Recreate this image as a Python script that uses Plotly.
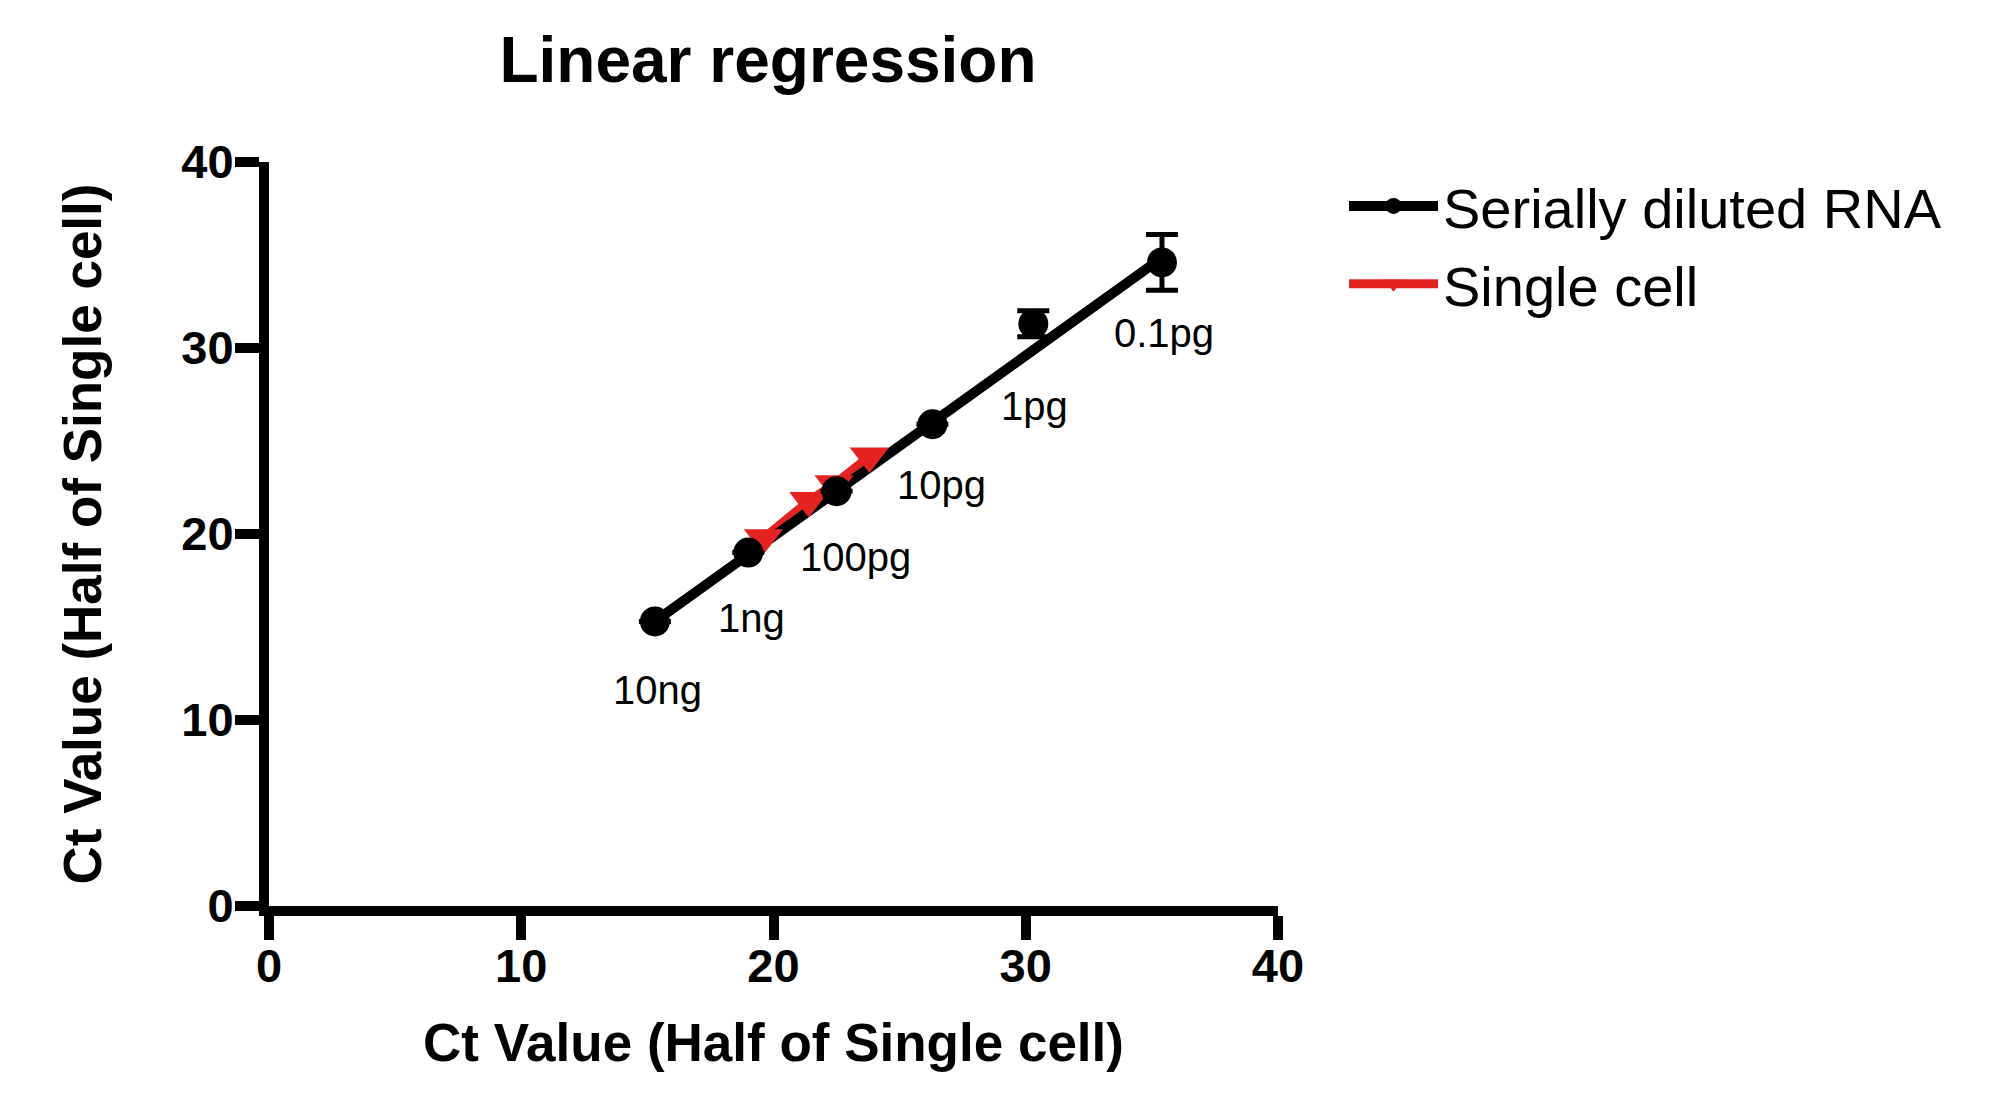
import plotly.graph_objects as go

# ---- data ----
conc_labels = ["10ng", "1ng", "100pg", "10pg", "1pg", "0.1pg"]
serial_x = [15.3, 19.0, 22.5, 26.3, 30.3, 35.4]
serial_y = [15.3, 19.0, 22.3, 25.9, 31.3, 34.6]
serial_err = [None, None, None, None, 0.7, 1.5]

cell_x = [19.6, 21.4, 22.4, 23.8]
cell_y = [19.8, 21.8, 22.7, 24.2]

fit_x = [15.3, 35.4]
fit_y = [15.3, 34.85]

x_ticks = [0, 10, 20, 30, 40]
y_ticks = [0, 10, 20, 30, 40]

# ---- style ----
BLACK = "#000000"
RED = "#e52421"
FONT = "Arial, Liberation Sans, sans-serif"
label_dx = [3, 3, 19, 9, 1, 2]
label_dy = [69, 65, 66, 61, 82, 71]

fig = go.Figure()

# red connecting line (under regression line)
fig.add_trace(go.Scatter(x=cell_x, y=cell_y, mode="lines",
                         line=dict(color=RED, width=8), showlegend=False,
                         hoverinfo="skip"))
# regression line
fig.add_trace(go.Scatter(x=fit_x, y=fit_y, mode="lines",
                         line=dict(color=BLACK, width=10), showlegend=False,
                         hoverinfo="skip"))
# single cell markers
fig.add_trace(go.Scatter(x=cell_x, y=cell_y, mode="markers",
                         marker=dict(symbol="triangle-down", size=34, color=RED),
                         showlegend=False, name="Single cell"))
# serially diluted RNA markers + error bars
fig.add_trace(go.Scatter(x=serial_x, y=serial_y, mode="markers",
                         marker=dict(symbol="circle", size=30, color=BLACK),
                         error_y=dict(type="data", array=serial_err, visible=True,
                                      color=BLACK, thickness=5, width=16),
                         showlegend=False, name="Serially diluted RNA"))

# legend entries
fig.add_trace(go.Scatter(x=[None], y=[None], mode="lines+markers",
                         name="Serially diluted RNA", legendgroup="a",
                         line=dict(color=BLACK, width=10),
                         marker=dict(symbol="circle", size=30, color=BLACK)))
fig.add_trace(go.Scatter(x=[None], y=[None], mode="lines+markers",
                         name="Single cell", legendgroup="b",
                         line=dict(color=RED, width=9),
                         marker=dict(symbol="triangle-down", size=34, color=RED)))

for i, lab in enumerate(conc_labels):
    fig.add_annotation(x=serial_x[i], y=serial_y[i], text=lab, showarrow=False,
                       xshift=label_dx[i], yshift=-label_dy[i],
                       xanchor="center", yanchor="middle",
                       font=dict(family=FONT, size=40, color=BLACK))

axis_common = dict(
    showline=True, linecolor=BLACK, linewidth=10,
    ticks="outside", ticklen=24, tickwidth=10, tickcolor=BLACK,
    showgrid=False, zeroline=False,
    tickfont=dict(family=FONT, size=47, color=BLACK, weight="bold"),
    range=[0, 40],
)

fig.update_layout(
    width=2000, height=1100,
    paper_bgcolor="white", plot_bgcolor="white",
    margin=dict(l=261, r=730, t=154, b=202, autoexpand=False),
    title=dict(text="<b>Linear regression</b>", x=0.38, xanchor="center",
               xref="container", y=1 - 52 / 1100, yref="container", yanchor="middle",
               font=dict(family=FONT, size=64, color=BLACK)),
    xaxis=dict(axis_common, tickvals=x_ticks, ticklabelstandoff=-14,
               title=dict(text="<b>Ct Value (Half of Single cell)</b>", standoff=36,
                          font=dict(family=FONT, size=53, color=BLACK))),
    yaxis=dict(axis_common, tickvals=y_ticks, ticklabelstandoff=-8,
               title=dict(text="<b>Ct Value (Half of Single cell)</b>", standoff=67,
                          font=dict(family=FONT, size=53, color=BLACK))),
    legend=dict(x=1336 / 2000, xref="container", xanchor="left",
                y=1 - 155 / 1100, yref="container", yanchor="top",
                font=dict(family=FONT, size=56, color=BLACK),
                itemwidth=89, tracegroupgap=2, bgcolor="rgba(0,0,0,0)"),
    showlegend=True,
)

fig.write_html("out.html")
